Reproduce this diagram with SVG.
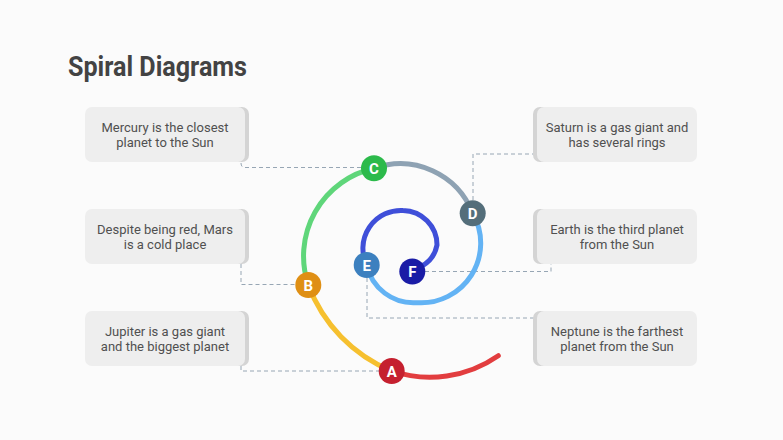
<svg xmlns="http://www.w3.org/2000/svg" width="783" height="440" viewBox="0 0 783 440">
<style>
.bg{fill:#fbfbfb}
.title{font-family:Roboto,"Liberation Sans",sans-serif;font-weight:700;font-size:27px;fill:#434343}
.box{fill:#eeeeee}
.shadow{fill:#d4d4d4}
.t{font-family:Roboto,"Liberation Sans",sans-serif;font-size:13px;fill:#505050;text-anchor:middle}
.lbl{font-family:Roboto,"Liberation Sans",sans-serif;font-weight:700;font-size:15px;fill:#ffffff;text-anchor:middle}
.conn{fill:none;stroke:#97a6b4;stroke-width:1;stroke-dasharray:4 3}
.arc{fill:none;stroke-width:5;stroke-linecap:round}
</style>
<rect class="bg" x="0" y="0" width="783" height="440"/>
<text class="title" x="68" y="76" textLength="179" lengthAdjust="spacingAndGlyphs">Spiral Diagrams</text>

<g id="connectors">
<path class="conn" d="M 361 167.5 H 245 Q 241 167.5 241 163"/>
<path class="conn" d="M 241 264 V 284.5 H 296"/>
<path class="conn" d="M 241 366 V 371 H 379"/>
<path class="conn" d="M 473 200 V 154 H 535"/>
<path class="conn" d="M 425 271.5 H 551 V 264"/>
<path class="conn" d="M 367 278 V 318 H 535"/>
</g>

<g id="spiral">
<path class="arc" stroke="#e23d3f" d="M 391.7 371 A 120 120 0 0 0 498.3 355.7"/>
<path class="arc" stroke="#f6c02f" d="M 391.7 371 A 150 150 0 0 1 308.3 285"/>
<path class="arc" stroke="#5fd67a" d="M 308.3 285 A 90 90 0 0 1 374 168.3"/>
<path class="arc" stroke="#8ea2b3" d="M 374 168.3 A 77.5 77.5 0 0 1 472.7 213.3"/>
<path class="arc" stroke="#63b3f4" d="M 472.7 213.3 A 59.7 59.7 0 0 1 416.7 302.7 A 48 48 0 0 1 366.7 265"/>
<path class="arc" stroke="#3f4fd9" d="M 366.7 265 A 38 38 0 0 1 403 210.5 A 34.5 34.5 0 0 1 437 245 A 30.5 30.5 0 0 1 422 266"/>
</g>

<g id="node-a"><circle cx="391.7" cy="371" r="13" fill="#c5202f"/><text class="lbl" x="391.7" y="376.5">A</text></g>
<g id="node-b"><circle cx="308.3" cy="285" r="13" fill="#df8f14"/><text class="lbl" x="308.3" y="290.5">B</text></g>
<g id="node-c"><circle cx="374" cy="168.3" r="13" fill="#2cba4b"/><text class="lbl" x="374" y="173.8">C</text></g>
<g id="node-d"><circle cx="472.7" cy="213.3" r="13" fill="#546e7a"/><text class="lbl" x="472.7" y="218.8">D</text></g>
<g id="node-e"><circle cx="366.7" cy="265" r="13" fill="#3c80bf"/><text class="lbl" x="366.7" y="270.5">E</text></g>
<g id="node-f"><circle cx="412.3" cy="271.5" r="13" fill="#1a1ca6"/><text class="lbl" x="412.3" y="277">F</text></g>

<g id="box-mercury">
<rect class="shadow" x="89" y="107" width="160" height="55" rx="7"/>
<rect class="box" x="85" y="107" width="160" height="55" rx="7"/>
<text class="t" x="165" y="131.5">Mercury is the closest</text>
<text class="t" x="165" y="147">planet to the Sun</text>
</g>
<g id="box-mars">
<rect class="shadow" x="89" y="209" width="160" height="55" rx="7"/>
<rect class="box" x="85" y="209" width="160" height="55" rx="7"/>
<text class="t" x="165" y="233.5">Despite being red, Mars</text>
<text class="t" x="165" y="249">is a cold place</text>
</g>
<g id="box-jupiter">
<rect class="shadow" x="89" y="311" width="160" height="55" rx="7"/>
<rect class="box" x="85" y="311" width="160" height="55" rx="7"/>
<text class="t" x="165" y="335.5">Jupiter is a gas giant</text>
<text class="t" x="165" y="351">and the biggest planet</text>
</g>
<g id="box-saturn">
<rect class="shadow" x="533" y="107" width="160" height="55" rx="7"/>
<rect class="box" x="537" y="107" width="160" height="55" rx="7"/>
<text class="t" x="617" y="131.5">Saturn is a gas giant and</text>
<text class="t" x="617" y="147">has several rings</text>
</g>
<g id="box-earth">
<rect class="shadow" x="533" y="209" width="160" height="55" rx="7"/>
<rect class="box" x="537" y="209" width="160" height="55" rx="7"/>
<text class="t" x="617" y="233.5">Earth is the third planet</text>
<text class="t" x="617" y="249">from the Sun</text>
</g>
<g id="box-neptune">
<rect class="shadow" x="533" y="311" width="160" height="55" rx="7"/>
<rect class="box" x="537" y="311" width="160" height="55" rx="7"/>
<text class="t" x="617" y="335.5">Neptune is the farthest</text>
<text class="t" x="617" y="351">planet from the Sun</text>
</g>
</svg>
